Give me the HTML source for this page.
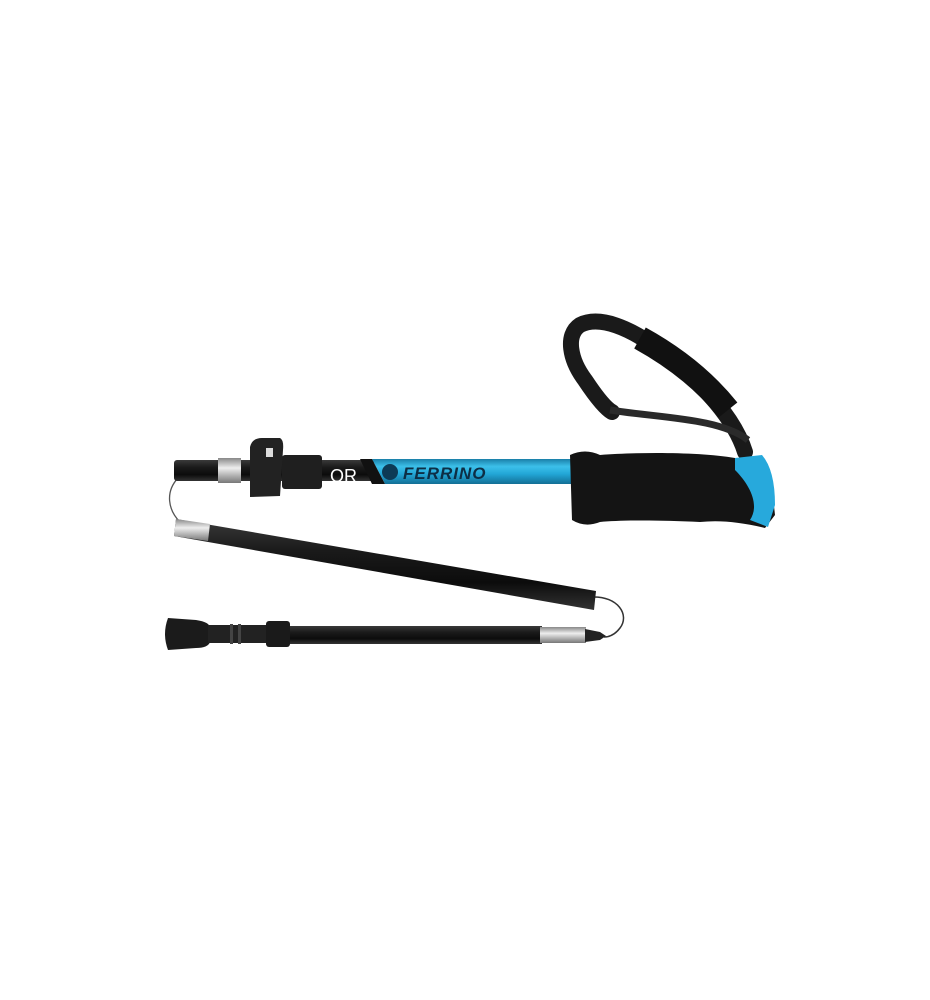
<!DOCTYPE html>
<html><head><style>
html,body{margin:0;padding:0;background:#fff;}
svg{display:block;}
</style></head><body>
<svg width="930" height="1000" viewBox="0 0 930 1000" xmlns="http://www.w3.org/2000/svg">
<defs>
<linearGradient id="blk" x1="0" y1="0" x2="0" y2="1">
<stop offset="0" stop-color="#3a3a3a"/><stop offset="0.35" stop-color="#1a1a1a"/><stop offset="0.7" stop-color="#0c0c0c"/><stop offset="1" stop-color="#333"/></linearGradient>
<linearGradient id="blu" x1="0" y1="0" x2="0" y2="1">
<stop offset="0" stop-color="#1a7fa8"/><stop offset="0.3" stop-color="#3cc0ea"/><stop offset="0.6" stop-color="#22a6d6"/><stop offset="1" stop-color="#136f95"/></linearGradient>
<linearGradient id="sil" x1="0" y1="0" x2="0" y2="1">
<stop offset="0" stop-color="#888"/><stop offset="0.4" stop-color="#eee"/><stop offset="1" stop-color="#777"/></linearGradient>
</defs>

<path d="M178 478 C165 492,168 510,180 522" fill="none" stroke="#555" stroke-width="1.3"/>
<path d="M592 597 C618 596,630 615,620 628 C614 636,608 637,604 637" fill="none" stroke="#333" stroke-width="1.5"/>

<!-- strap -->
<path d="M745 452 C735 420,705 385,660 350 C630 328,600 315,580 325 C565 335,570 360,585 380 C595 395,605 408,612 412" fill="none" stroke="#1a1a1a" stroke-width="16" stroke-linecap="round"/>
<path d="M610 410 C660 418,720 418,748 440" fill="none" stroke="#2a2a2a" stroke-width="7"/>
<path d="M640 338 C680 360,708 385,728 410" fill="none" stroke="#111" stroke-width="24"/>

<rect x="174" y="460" width="200" height="21" rx="3" fill="url(#blk)"/>
<rect x="218" y="458" width="23" height="25" fill="url(#sil)"/>
<path d="M372 459 L575 459 L575 484 L385 484 Z" fill="url(#blu)"/>
<path d="M360 459 L372 459 L385 484 L372 484 Z" fill="#111"/>
<text x="330" y="482" font-family="Liberation Sans, sans-serif" font-size="18" fill="#fff">OR</text>
<circle cx="390" cy="472" r="8" fill="#0d3a55"/>
<text x="403" y="479" font-family="Liberation Sans, sans-serif" font-weight="bold" font-style="italic" font-size="17" fill="#0d2e45" letter-spacing="1">FERRINO</text>
<rect x="282" y="455" width="40" height="34" rx="3" fill="#1f1f1f"/>
<path d="M250 447 Q252 438,262 438 L280 438 Q284 440,283 450 L280 496 L250 497 Z" fill="#222"/>
<rect x="266" y="448" width="7" height="9" fill="#ddd"/>

<path d="M570 455 Q585 448,600 455 C640 452,700 452,735 458 L770 470 L775 515 L765 528 C740 522,720 520,700 522 C660 520,620 520,600 522 Q585 528,572 520 Z" fill="#141414"/>
<path d="M735 458 L762 455 Q775 470,775 505 L768 527 L750 520 C760 505,750 485,735 470 Z" fill="#27a9dc"/>

<path d="M176 519 L596 591 L594 610 L174 536 Z" fill="url(#blk)"/>
<path d="M176 519 L210 524 L208 541 L174 536 Z" fill="url(#sil)"/>

<path d="M168 618 L196 620 Q210 622,210 628 L210 642 Q208 648,196 648 L168 650 Q162 634,168 618 Z" fill="#1b1b1b"/>
<rect x="208" y="625" width="60" height="18" fill="#222"/>
<rect x="230" y="624" width="3" height="20" fill="#444"/>
<rect x="238" y="624" width="3" height="20" fill="#444"/>
<rect x="266" y="621" width="24" height="26" rx="3" fill="#1a1a1a"/>
<rect x="290" y="626" width="252" height="18" fill="url(#blk)"/>
<rect x="540" y="627" width="46" height="16" fill="url(#sil)"/>
<path d="M585 629 L600 632 L606 636 L600 640 L585 642 Z" fill="#222"/>
</svg>
</body></html>
